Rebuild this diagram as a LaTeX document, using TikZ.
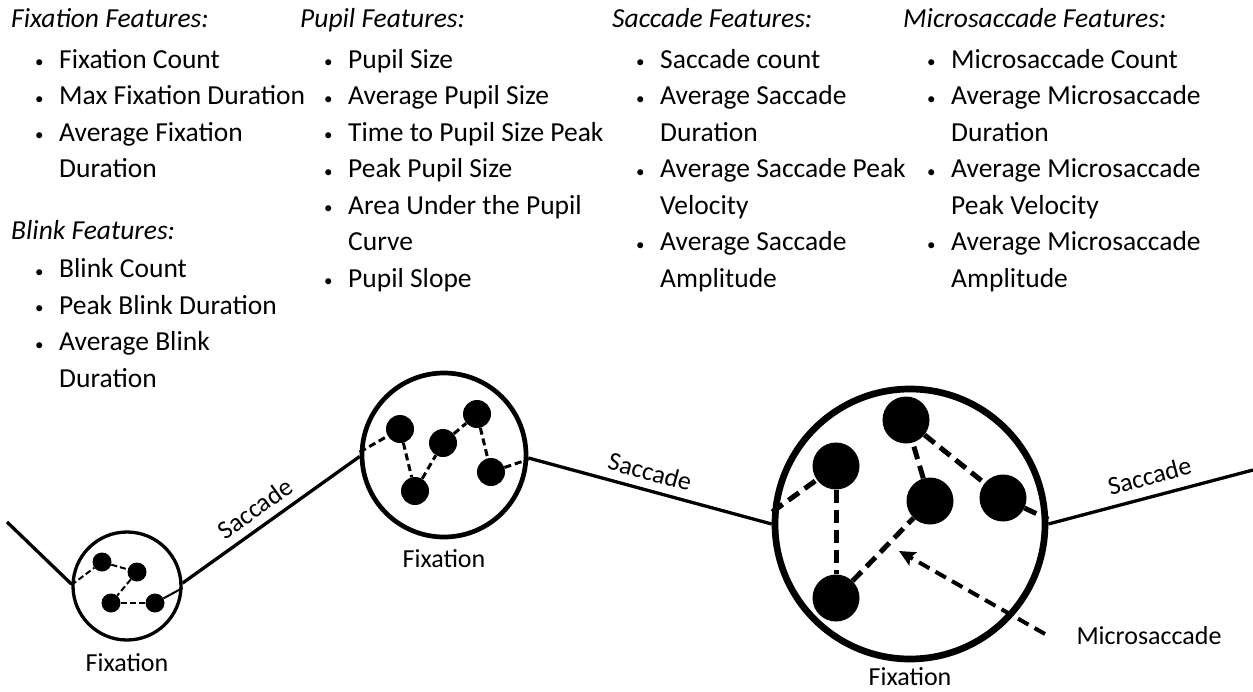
\documentclass[tikz,border=0pt]{standalone}
\usepackage{fontspec}
\setmainfont{Carlito}
\usetikzlibrary{positioning,calc,arrows.meta}

\newcommand{\bul}{\hspace*{24pt}\makebox[24pt][l]{\raisebox{0.5pt}{\fontsize{17}{17}\selectfont\textbullet}}}
\newcommand{\cnt}{\hspace*{48pt}}

\begin{document}
\begin{tikzpicture}[
    x=1pt, y=-1pt,
    fix/.style={circle, draw, inner sep=0pt},
    dot/.style={circle, fill=black, inner sep=0pt},
    gaze/.style={line width=3.3pt},
    linkA/.style={line width=2pt, dash pattern=on 6pt off 3pt},
    linkB/.style={line width=3pt, dash pattern=on 7pt off 4pt},
    linkC/.style={line width=5pt, dash pattern=on 13pt off 7pt},
    pointer/.style={line width=4pt, dash pattern=on 12pt off 7pt, -{Stealth[length=16pt, width=15pt, inset=3pt]}},
    feat/.style={align=left, anchor=north west, inner sep=0pt, font=\fontsize{27.5}{36.5}\selectfont},
    lbl/.style={inner sep=0pt, font=\fontsize{26}{32}\selectfont}
]
\useasboundingbox (0,0) rectangle (1253,691);

% Feature lists
\node[feat] (fixfeat) at (11,1.4) {\strut\textit{Fixation Features:}\\[4.5pt]\bul Fixation Count\\\bul Max Fixation Duration\\\bul Average Fixation\\\cnt Duration};
\node[feat, below=36pt of fixfeat.south west, anchor=north west] (blinkfeat) {\strut\textit{Blink Features:}\\[1.5pt]\bul Blink Count\\\bul Peak Blink Duration\\\bul Average Blink\\\cnt Duration};
\node[feat] (pupilfeat) at (300,1.4) {\strut\textit{Pupil Features:}\\[4.5pt]\bul Pupil Size\\\bul Average Pupil Size\\\bul Time to Pupil Size Peak\\\bul Peak Pupil Size\\\bul Area Under the Pupil\\\cnt Curve\\\bul Pupil Slope};
\node[feat] (saccfeat) at (612,1.4) {\strut\textit{Saccade Features:}\\[4.5pt]\bul Saccade count\\\bul Average Saccade\\\cnt Duration\\\bul Average Saccade Peak\\\cnt Velocity\\\bul Average Saccade\\\cnt Amplitude};
\node[feat] (microfeat) at (903,1.4) {\strut\textit{Microsaccade Features:}\\[4.5pt]\bul Microsaccade Count\\\bul Average Microsaccade\\\cnt Duration\\\bul Average Microsaccade\\\cnt Peak Velocity\\\bul Average Microsaccade\\\cnt Amplitude};

% Fixations
\node[fix, line width=3.3pt, minimum size=108pt] (fixA) at (127,586) {};
\node[fix, line width=4.7pt, minimum size=164pt] (fixB) at (444,455) {};
\node[fix, line width=6.7pt, minimum size=270pt] (fixC) at (910,524) {};

\node[lbl, below=12pt of fixA] (fixAlbl) {Fixation};
\node[lbl, below=10pt of fixB] (fixBlbl) {Fixation};
\node[lbl, below=5pt of fixC] (fixClbl) {Fixation};

% Gaze points inside the fixations
\node[dot, minimum size=19pt] (a1) at (102,562) {};
\node[dot, minimum size=19pt] (a2) at (137,572) {};
\node[dot, minimum size=19pt] (a3) at (111,603) {};
\node[dot, minimum size=19pt] (a4) at (155,603) {};

\node[dot, minimum size=28pt] (b1) at (400,429) {};
\node[dot, minimum size=28pt] (b2) at (415,491) {};
\node[dot, minimum size=28pt] (b3) at (443,443) {};
\node[dot, minimum size=28pt] (b4) at (477,414) {};
\node[dot, minimum size=28pt] (b5) at (491,472) {};

\node[dot, minimum size=47pt] (c1) at (836,466) {};
\node[dot, minimum size=47pt] (c2) at (906,420) {};
\node[dot, minimum size=47pt] (c3) at (930,501) {};
\node[dot, minimum size=47pt] (c4) at (1003,498) {};
\node[dot, minimum size=47pt] (c5) at (836,598) {};

% Microsaccades
\draw[linkA] (fixA.179) -- (a1);
\draw[linkA] (a1) -- (a2);
\draw[linkA] (a2) -- (a3);
\draw[linkA] (a3) -- (a4);
\draw[line width=2pt] (a4) -- (fixA.358);

\draw[linkB] (fixB.178) -- (b1);
\draw[linkB] (b1) -- (b2);
\draw[linkB] (b2) -- (b3);
\draw[linkB] (b3) -- (b4);
\draw[linkB] (b4) -- (b5);
\draw[linkB] (b5) -- (fixB.357);

\draw[linkC] (fixC.175) -- (c1);
\draw[linkC] (c1) -- (c5);
\draw[linkC] (c5) -- (c3);
\draw[linkC] (c3) -- (c2);
\draw[linkC] (c2) -- (c4);
\draw[linkC] (c4) -- (fixC.2);

% Saccades
\coordinate (gazein) at (7,522);
\coordinate (gazeout) at (1253,470);
\draw[gaze] (gazein) -- (fixA.178);
\draw[gaze] (fixA.3) -- (fixB.181) node[lbl, pos=0.47, sloped, above=8pt] {Saccade};
\draw[gaze] (fixB.358) -- (fixC.180) node[lbl, pos=0.48, sloped, above=8pt] {Saccade};
\draw[gaze] (fixC.0) -- (gazeout) node[lbl, pos=0.52, sloped, above=10pt] {Saccade};

% Microsaccade pointer
\node[lbl] (microlbl) at (1149,636) {Microsaccade};
\coordinate (mtail) at (1045,634);
\coordinate (mtip) at (899,551);
\draw[pointer] (mtail) -- (mtip);

\end{tikzpicture}
\end{document}
